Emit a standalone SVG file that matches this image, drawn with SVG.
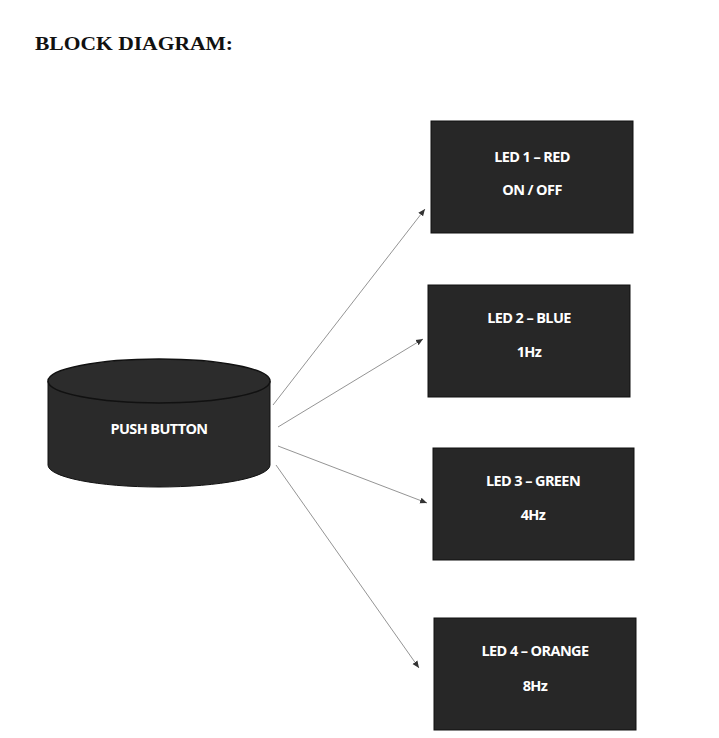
<svg xmlns="http://www.w3.org/2000/svg" width="719" height="738" viewBox="0 0 719 738">
<style>
.box{fill:#272727;stroke:#111;stroke-width:1}
.t{font-family:"Open Sans","Liberation Sans",Arial,sans-serif;font-weight:bold;font-size:14.5px;letter-spacing:-0.6px;fill:#fff;text-anchor:middle}
.c{stroke:#888;stroke-width:0.9;fill:none;marker-end:url(#ah)}
</style>
<defs>
<marker id="ah" markerWidth="8" markerHeight="8" refX="7" refY="4" orient="auto" markerUnits="userSpaceOnUse">
<path d="M0,1 L7,4 L0,7 Z" fill="#333"/>
</marker>
</defs>
<rect width="719" height="738" fill="#fff"/>
<text x="35" y="50" font-family="Liberation Serif,'Times New Roman',serif" font-weight="bold" font-size="18" fill="#111" textLength="198" lengthAdjust="spacingAndGlyphs">BLOCK DIAGRAM:</text>
<g id="push-button">
<path d="M48,381 L48,465 A111,22 0 0 0 270,465 L270,381" fill="#2a2a2a" stroke="#111" stroke-width="1"/>
<ellipse cx="159" cy="381" rx="111" ry="22" fill="#2c2c2c" stroke="#111" stroke-width="1.5"/>
<text class="t" x="159" y="434">PUSH BUTTON</text>
</g>
<g id="led1">
<rect class="box" x="431" y="121" width="202" height="112"/>
<text class="t" x="532" y="162">LED 1 – RED</text>
<text class="t" x="532" y="195">ON / OFF</text>
</g>
<g id="led2">
<rect class="box" x="428" y="285" width="202" height="112"/>
<text class="t" x="529" y="323">LED 2 – BLUE</text>
<text class="t" x="529" y="357">1Hz</text>
</g>
<g id="led3">
<rect class="box" x="433" y="448" width="201" height="112"/>
<text class="t" x="533" y="486">LED 3 – GREEN</text>
<text class="t" x="533" y="520">4Hz</text>
</g>
<g id="led4">
<rect class="box" x="434" y="618" width="202" height="112"/>
<text class="t" x="535" y="656">LED 4 – ORANGE</text>
<text class="t" x="535" y="691">8Hz</text>
</g>
<g id="connectors">
<path class="c" d="M273,405 L425,209"/>
<path class="c" d="M278,427 L423,339"/>
<path class="c" d="M278,446 L427,503"/>
<path class="c" d="M276,465 L419,668"/>
</g>
</svg>
